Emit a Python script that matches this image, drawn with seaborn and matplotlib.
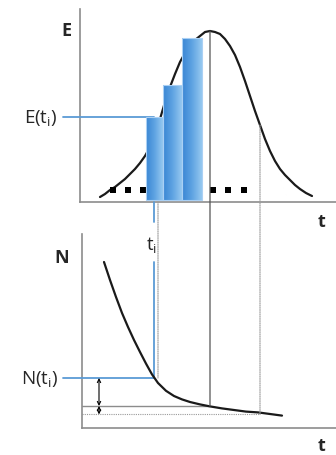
import numpy as np
import matplotlib
matplotlib.use("Agg")
import matplotlib.pyplot as plt
import seaborn as sns
from matplotlib.colors import LinearSegmentedColormap
from matplotlib.patches import ConnectionPatch

# E(t) curve
e_t = [1.0, 1.25, 1.5, 1.75, 2.0, 2.25, 2.5, 2.75, 3.0, 3.25, 3.5, 3.75, 4.0, 4.25,
       4.5, 4.75, 5.0, 5.25, 5.5, 5.75, 6.0, 6.25, 6.5, 6.75, 7.0, 7.25, 7.5, 7.75,
       8.0, 8.25, 8.5, 8.75, 9.0, 9.25, 9.5, 9.75, 10.0, 10.25, 10.5, 10.75, 11.0,
       11.3, 11.6]
e_val = [0.25, 0.40, 0.60, 0.75, 0.95, 1.15, 1.40, 1.65, 1.95, 2.30, 2.75, 3.35, 4.15,
         5.00, 5.75, 6.40, 7.00, 7.45, 7.80, 8.10, 8.30, 8.50, 8.55, 8.50, 8.40, 8.15,
         7.80, 7.35, 6.75, 6.05, 5.30, 4.55, 3.85, 3.15, 2.55, 2.05, 1.65, 1.35, 1.10,
         0.85, 0.65, 0.45, 0.30]

# N(t) curve, bottom panel
n_t = [1.2, 1.5, 1.8, 2.1, 2.4, 2.7, 3.0, 3.3, 3.6, 3.9, 4.3, 4.7, 5.1, 5.5, 6.0,
       6.5, 7.1, 7.7, 8.3, 8.9, 9.5, 10.1]
n_val = [8.30, 7.40, 6.55, 5.75, 5.05, 4.40, 3.80, 3.22, 2.68, 2.25, 1.86, 1.60, 1.43,
         1.30, 1.18, 1.08, 0.98, 0.90, 0.82, 0.78, 0.70, 0.62]

# the three blue steps
bar_left = [3.3, 4.15, 5.1]
bar_width = [0.85, 0.95, 1.0]
bar_top = [4.25, 5.85, 8.2]
bar_base = 0.1

# "..." squares on both sides of the steps
dot_t = [1.65, 2.4, 3.15, 6.65, 7.4, 8.2]
dot_e = [0.6, 0.6, 0.6, 0.6, 0.6, 0.6]

# marked points
t_i = 3.7
t_i_edge = 3.9
E_ti = 4.25
N_ti = 2.5
t_peak = 6.5
E_peak = 8.55
N_peak = 1.1
t_tail = 9.0
E_tail = 3.85
N_tail = 0.68

sns.set_theme(style="white")
plt.rcParams["font.family"] = ["Open Sans", "DejaVu Sans"]
plt.rcParams["mathtext.default"] = "regular"

blue = "#5b9bd5"
axis_grey = "#8c8c8c"
bar_cmap = LinearSegmentedColormap.from_list("bar", ["#3a86d4", "#5ea3e2", "#95c8f0"])

W, H = 336, 456
fig = plt.figure(figsize=(W / 100, H / 100), dpi=100)
ax1 = fig.add_axes([80 / W, (H - 203) / H, 256 / W, 193 / H])
ax2 = fig.add_axes([82 / W, (H - 429) / H, 254 / W, 194 / H])

# top panel: E(t)
sns.lineplot(x=e_t, y=e_val, ax=ax1, color="#1a1a1a", lw=1.6, sort=False,
             estimator=None, zorder=2)
sns.scatterplot(x=dot_t, y=dot_e, ax=ax1, marker="s", s=14, color="black",
                edgecolor="none", zorder=2.5)
grad = np.linspace(0, 1, 64).reshape(1, -1)
for l, w, h in zip(bar_left, bar_width, bar_top):
    ax1.imshow(grad, cmap=bar_cmap, extent=[l, l + w, bar_base, h], aspect="auto",
               interpolation="bicubic", zorder=3)
    ax1.bar(l, h - bar_base, width=w, bottom=bar_base, align="edge", fill=False,
            edgecolor="#aad0f4", lw=0.8, zorder=4)
ax1.plot([-0.85, t_i], [E_ti, E_ti], color=blue, lw=1.3, clip_on=False, zorder=2.6)
ax1.plot([t_i, t_i], [0, -1.0], color=blue, lw=1.3, clip_on=False, zorder=2.6)

# bottom panel: N(t)
sns.lineplot(x=n_t, y=n_val, ax=ax2, color="#1a1a1a", lw=1.6, sort=False,
             estimator=None, zorder=3)
ax2.plot([t_i, t_i], [n_val[0], N_ti], color=blue, lw=1.3, zorder=2.6)
ax2.plot([-0.85, t_i], [N_ti, N_ti], color=blue, lw=1.3, clip_on=False, zorder=2.6)
ax2.plot([0.1, t_peak], [N_peak, N_peak], color=axis_grey, lw=1.0, zorder=2)
ax2.plot([0.1, t_tail], [N_tail, N_tail], color="#9a9a9a", lw=0.8, ls=(0, (1, 1)), zorder=2)
for lo, hi in [(N_peak, N_ti), (N_tail, N_peak)]:
    ax2.annotate("", xy=(0.95, lo), xytext=(0.95, hi),
                 arrowprops=dict(arrowstyle="<->", color="black", lw=0.8,
                                 mutation_scale=6, shrinkA=0, shrinkB=0))

for ax, top in [(ax1, 9.65), (ax2, 9.7)]:
    ax.set_ylim(0, top)
    ax.set_xticks([])
    ax.set_yticks([])
    ax.set_xlabel("")
    ax.set_ylabel("")
    ax.set_facecolor("none")
    for side in ["top", "right"]:
        ax.spines[side].set_visible(False)
    for side in ["left", "bottom"]:
        ax.spines[side].set_color(axis_grey)
        ax.spines[side].set_linewidth(1.2)
ax1.set_xlim(0, 12.8)
ax2.set_xlim(0.1, 12.8)

# guide lines running from one panel down to the other
for (ta, ea, nb, col, lw, ls) in [
        (t_i_edge, 0, N_ti, "#9a9a9a", 0.8, (0, (1, 1))),
        (t_peak, E_peak, N_peak, "#555555", 0.9, "-"),
        (t_tail, E_tail, N_tail, "#9a9a9a", 0.8, (0, (1, 1)))]:
    con = ConnectionPatch(xyA=(ta, ea), coordsA=ax1.transData,
                          xyB=(ta, nb), coordsB=ax2.transData,
                          color=col, lw=lw, ls=ls, zorder=1)
    fig.add_artist(con)

# labels
ax1.text(-0.7, 8.6, "E", fontsize=13, fontweight="bold", ha="center", va="center")
ax1.text(12.05, -0.95, "t", fontsize=13, fontweight="bold", ha="center", va="center")
ax1.text(-1.15, E_ti, "E(t$_i$)", fontsize=13.5, ha="right", va="center")
ax2.text(-0.9, 8.55, "N", fontsize=13, fontweight="bold", ha="center", va="center")
ax2.text(12.05, -0.85, "t", fontsize=13, fontweight="bold", ha="center", va="center")
ax2.text(-1.1, N_ti, "N(t$_i$)", fontsize=13.5, ha="right", va="center")
ax2.text(3.6, 9.2, "t$_i$", fontsize=13.5, ha="center", va="center")

fig.savefig("out.png", dpi=100)
